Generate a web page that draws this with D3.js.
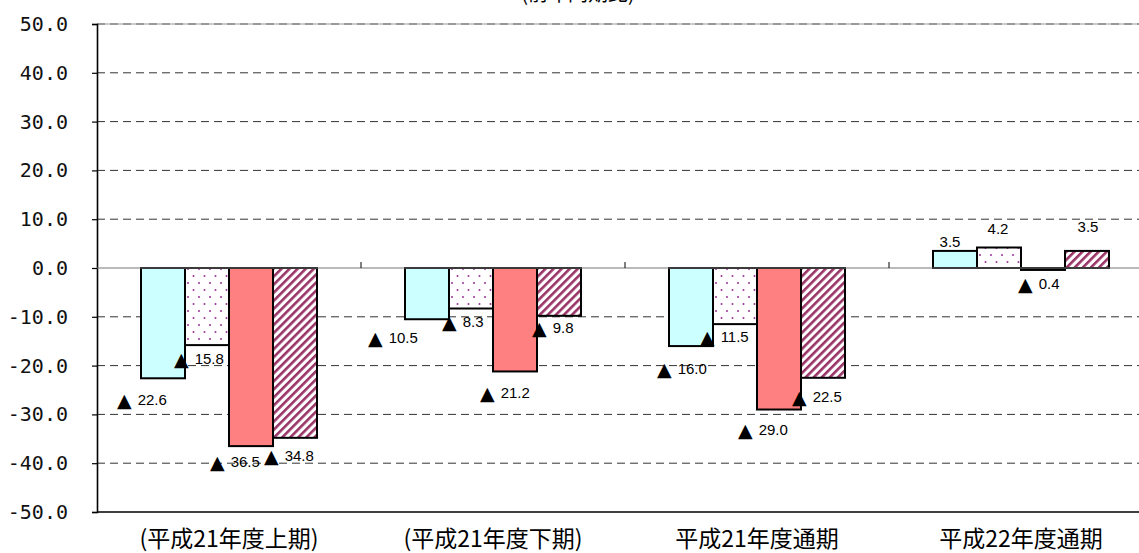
<!DOCTYPE html>
<html>
<head>
<meta charset="utf-8">
<script src="https://cdn.jsdelivr.net/npm/d3@7"></script>
<style>
  body { margin: 0; background: #fff; }
</style>
</head>
<body>
<div id="chart"></div>
<script>
const categories = ["(平成21年度上期)", "(平成21年度下期)", "平成21年度通期", "平成22年度通期"];
const seriesNames = ["s1", "s2", "s3", "s4"];
const values = [
  [-22.6, -15.8, -36.5, -34.8],
  [-10.5, -8.3, -21.2, -9.8],
  [-16.0, -11.5, -29.0, -22.5],
  [3.5, 4.2, -0.4, 3.5]
];
const yTicks = [-50, -40, -30, -20, -10, 0, 10, 20, 30, 40, 50];

// label nudges [dx, dy] (layout only), Excel labels were hand-placed
const labelNudge = [
  [[-16, 23], [-3, 15], [-11, 17], [-1, 19]],
  [[-29, 20], [1, 14], [-5, 23], [3, 13]],
  [[-4, 24], [-5, 14], [-11, 21], [-1, 20]],
  [[-5, -8], [-1, -17], [5, 15], [1, -23]]
];

let width = 1139, height = 553;
let margin = { top: 24, bottom: 41, left: 97, right: -14 };

let svg = d3.select('#chart')
  .append('svg')
  .attr('width', width)
  .attr('height', height);

let defs = svg.append('defs');
let dots = defs.append('pattern')
  .attr('id', 'dots')
  .attr('patternUnits', 'userSpaceOnUse')
  .attr('width', 11).attr('height', 14);
dots.append('rect').attr('width', 11).attr('height', 14).attr('fill', '#fff');
dots.append('circle').attr('cx', 3).attr('cy', 3).attr('r', 1).attr('fill', '#993399');
dots.append('circle').attr('cx', 8.5).attr('cy', 10).attr('r', 1).attr('fill', '#993399');

let stripes = defs.append('pattern')
  .attr('id', 'stripes')
  .attr('patternUnits', 'userSpaceOnUse')
  .attr('width', 5.7).attr('height', 5.7)
  .attr('patternTransform', 'rotate(45)');
stripes.append('rect').attr('width', 5.7).attr('height', 5.7).attr('fill', '#fff');
stripes.append('rect').attr('width', 2.6).attr('height', 5.7).attr('fill', '#993366');

const fills = ['#CCFFFF', 'url(#dots)', '#FF8080', 'url(#stripes)'];

let x0 = d3.scaleBand()
  .domain(categories)
  .range([margin.left, width - margin.right]);

let x1 = d3.scaleBand()
  .domain(seriesNames)
  .range([0, x0.bandwidth()])
  .paddingInner(0)
  .paddingOuter(1);

let y = d3.scaleLinear()
  .domain([-50, 50])
  .range([height - margin.bottom, margin.top]);

// title (cut off at the top edge, as in the source)
svg.append('text')
  .attr('x', 578)
  .attr('y', 1)
  .attr('text-anchor', 'middle')
  .style('font-family', 'Noto Sans CJK JP')
  .style('font-size', '20px')
  .text('(前年同期比)');

// grid lines
svg.append('g')
  .selectAll('line')
  .data(yTicks.filter(d => d !== 0 && d !== -50))
  .join('line')
  .attr('x1', margin.left).attr('x2', width)
  .attr('y1', d => y(d)).attr('y2', d => y(d))
  .attr('stroke', '#333')
  .attr('stroke-dasharray', '8,5');

svg.append('line')
  .attr('x1', margin.left).attr('x2', width)
  .attr('y1', y(50)).attr('y2', y(50))
  .attr('stroke', '#999');

// y axis
let yAxis = svg.append('g')
  .attr('transform', `translate(${margin.left},0)`)
  .call(d3.axisLeft(y).tickValues(yTicks).tickSize(5).tickFormat(d3.format('.1f')));
yAxis.select('.domain').attr('stroke', '#000').attr('stroke-width', 1.6);
yAxis.selectAll('.tick line').attr('stroke', '#000').attr('stroke-width', 1.2);
yAxis.selectAll('text')
  .attr('x', -29)
  .style('font-family', 'DejaVu Sans Mono')
  .style('font-size', '20px')
  .attr('fill', '#111')
  .text(d => d3.format('.1f')(d).replace('−', '-'));

// bottom line
svg.append('line')
  .attr('x1', margin.left).attr('x2', width)
  .attr('y1', y(-50)).attr('y2', y(-50))
  .attr('stroke', '#000').attr('stroke-width', 1.6);

// bars
let groups = svg.append('g')
  .selectAll('g')
  .data(categories)
  .join('g')
  .attr('transform', d => `translate(${x0(d)},0)`);

groups.selectAll('rect')
  .data((c, ci) => values[ci].map((v, si) => ({ v, si, ci })))
  .join('rect')
  .attr('x', d => x1(seriesNames[d.si]))
  .attr('width', x1.bandwidth())
  .attr('y', d => y(Math.max(0, d.v)))
  .attr('height', d => Math.abs(y(d.v) - y(0)))
  .attr('fill', d => fills[d.si])
  .attr('stroke', '#000')
  .attr('stroke-width', 2);

// zero line + category ticks
svg.append('line')
  .attr('x1', margin.left).attr('x2', width)
  .attr('y1', y(0)).attr('y2', y(0))
  .attr('stroke', '#777').attr('stroke-width', 1.2);

svg.append('g')
  .selectAll('line')
  .data(categories.slice(1))
  .join('line')
  .attr('x1', d => x0(d)).attr('x2', d => x0(d))
  .attr('y1', y(0) - 6).attr('y2', y(0))
  .attr('stroke', '#000');

// category labels
svg.append('g')
  .selectAll('text')
  .data(categories)
  .join('text')
  .attr('x', d => x0(d) + x0.bandwidth() / 2)
  .attr('y', height - 12)
  .attr('dominant-baseline', 'middle')
  .attr('text-anchor', 'middle')
  .style('font-family', 'Noto Sans CJK JP')
  .style('font-size', '23px')
  .text(d => d);

// data labels
groups.selectAll('text')
  .data((c, ci) => values[ci].map((v, si) => ({ v, si, ci })))
  .join('text')
  .each(function(d) {
    let t = d3.select(this);
    let [dx, dy] = labelNudge[d.ci][d.si];
    let bx = x1(seriesNames[d.si]);
    t.attr('dominant-baseline', 'middle')
      .style('font-family', 'Liberation Sans, Arial')
      .style('font-size', '15px');
    if (d.v < 0) {
      t.attr('x', bx + dx - 8).attr('y', y(d.v) + dy).attr('text-anchor', 'start');
      t.append('tspan').style('font-family', 'DejaVu Sans').style('font-size', '19px').text('▲');
      t.append('tspan').attr('dx', 6).text(Math.abs(d.v).toFixed(1));
    } else {
      t.attr('x', bx + x1.bandwidth() / 2 + dx).attr('y', y(d.v) + dy)
        .attr('text-anchor', 'middle')
        .text(d.v.toFixed(1));
    }
  });
</script>
</body>
</html>
